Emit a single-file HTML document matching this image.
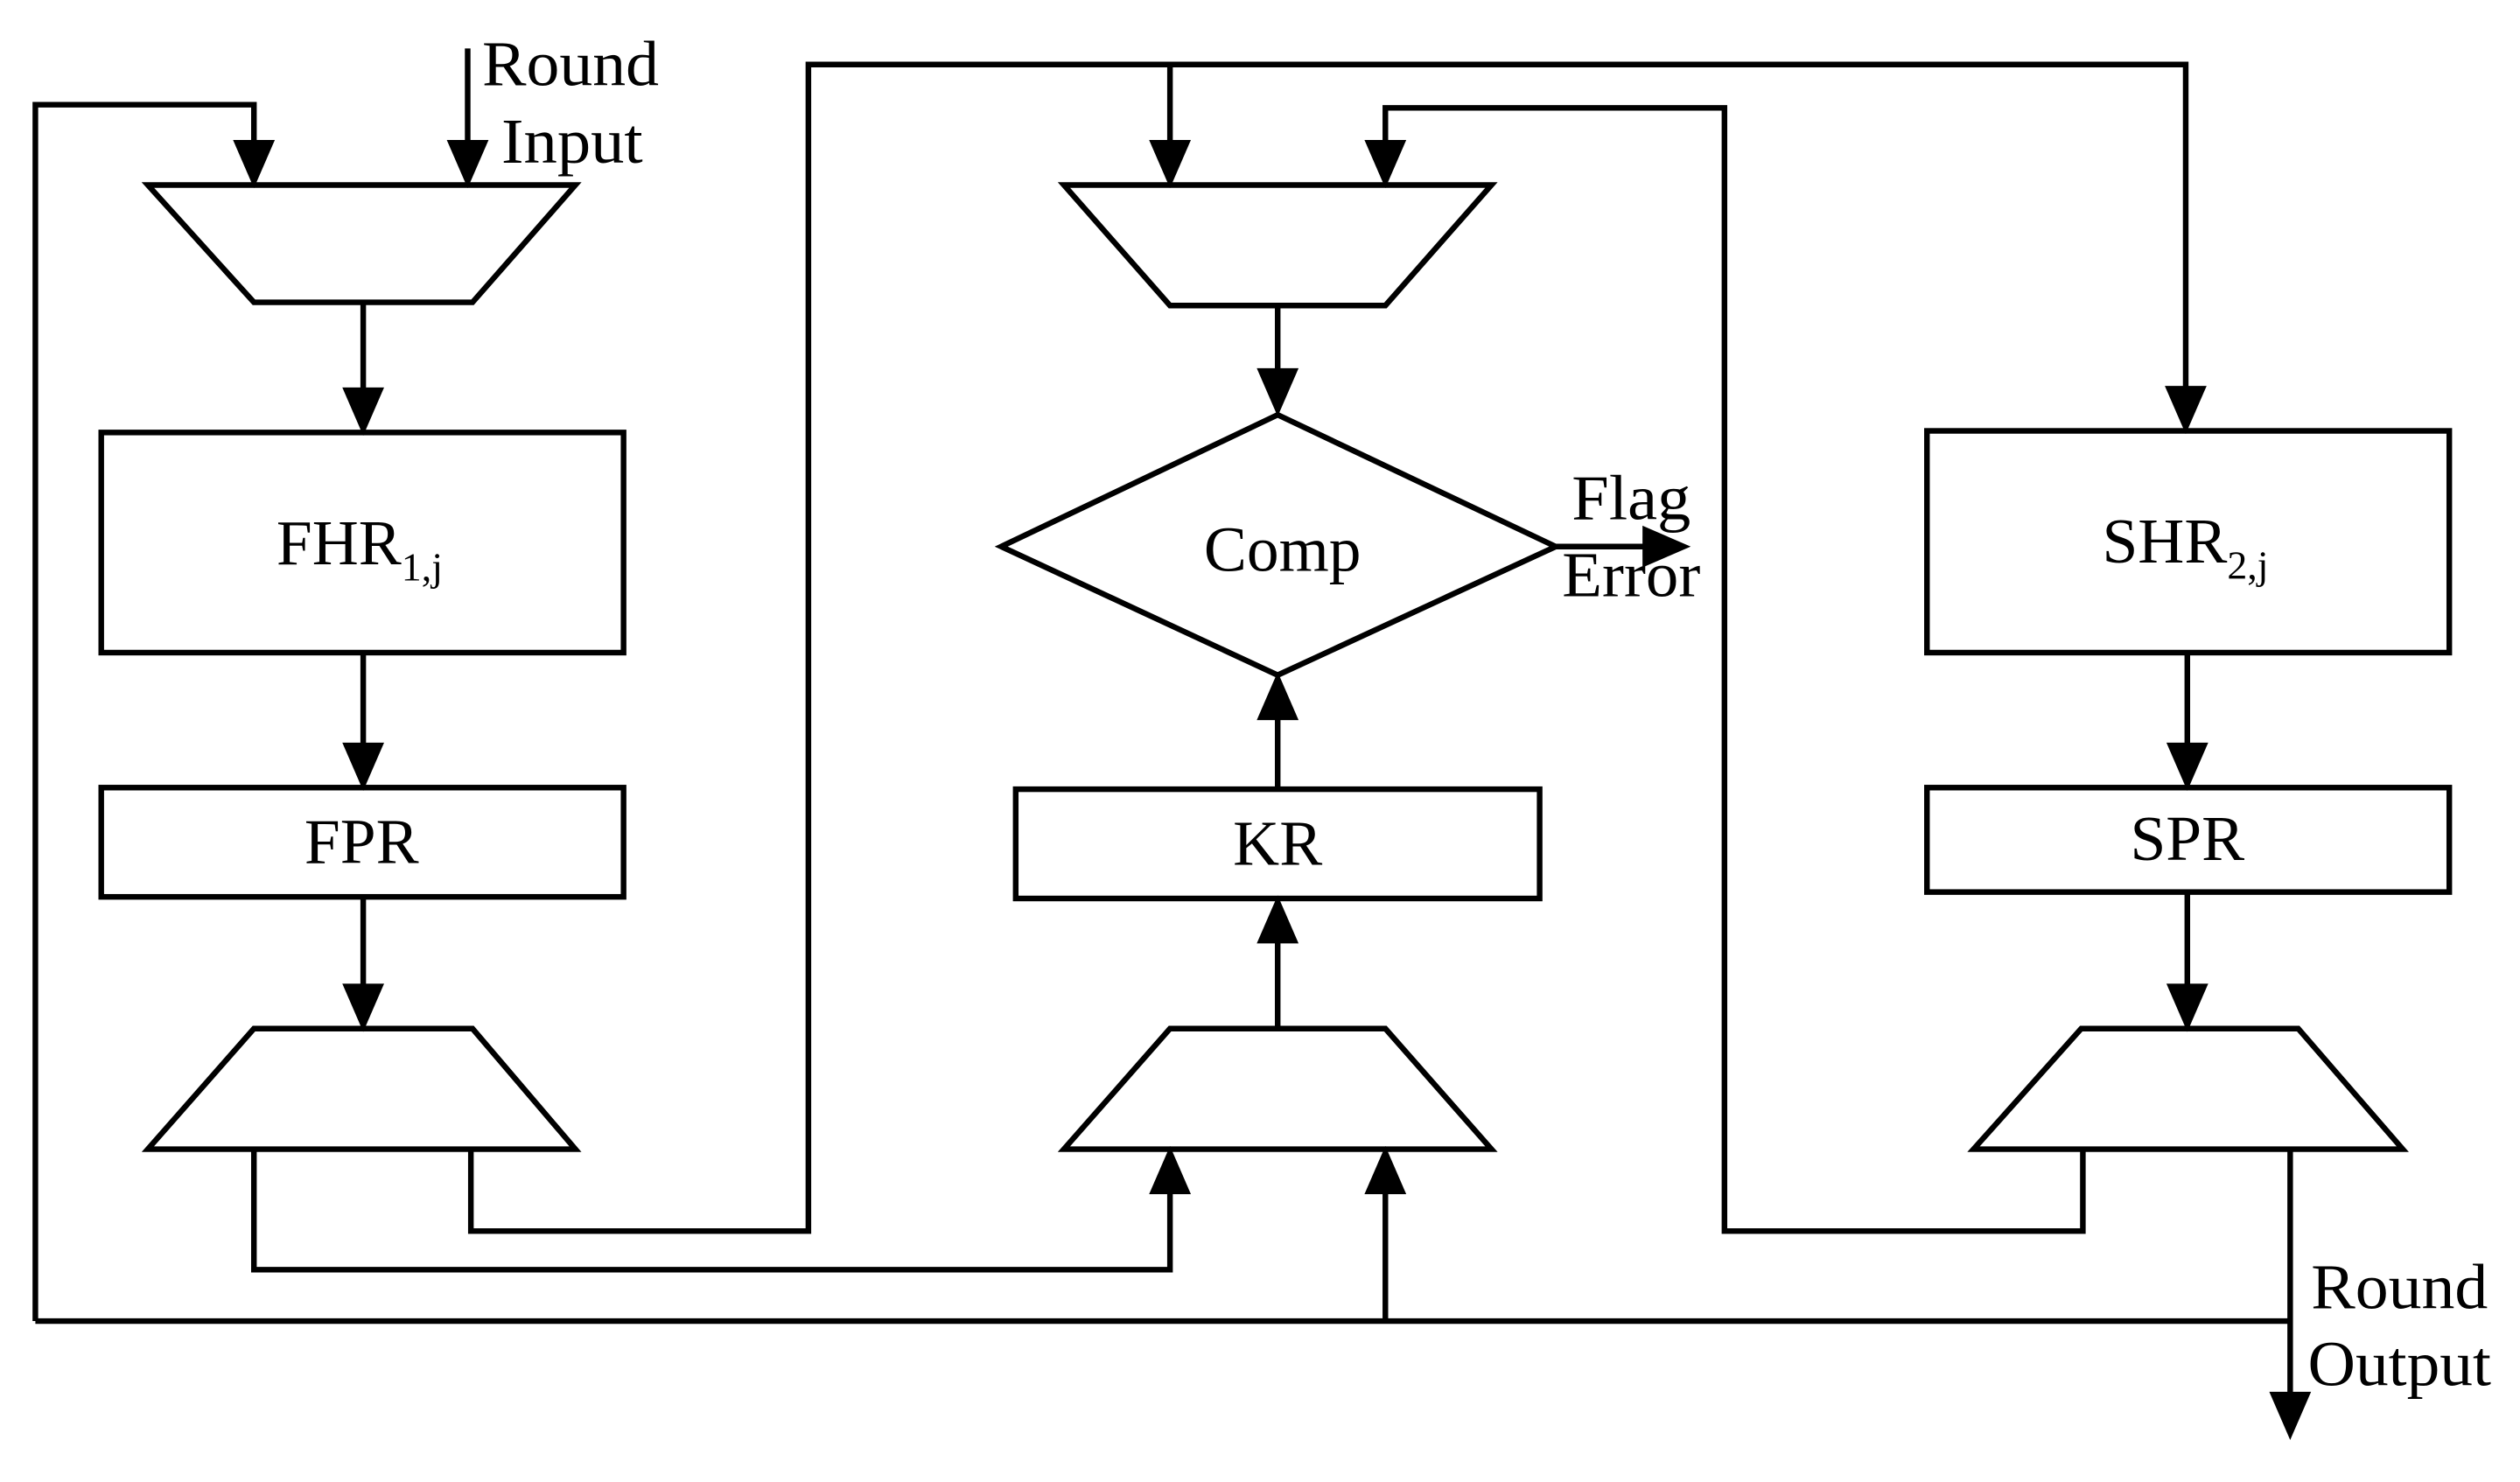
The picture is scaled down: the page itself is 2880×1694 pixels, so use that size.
<!DOCTYPE html>
<html><head><meta charset="utf-8"><style>
html,body{margin:0;padding:0;background:#fff;}
svg{display:block;}
text{font-family:"Liberation Serif",serif;fill:#000;}
</style></head><body>
<svg width="2880" height="1694" viewBox="0 0 1568 922" xmlns="http://www.w3.org/2000/svg">
<g fill="none" stroke="#000" stroke-width="3.5" stroke-linejoin="miter">
<polygon points="92,115 358,115 294,188 158,188"/>
<rect x="63" y="269" width="325" height="137"/>
<rect x="63" y="490" width="325" height="68"/>
<polygon points="158,640 294,640 358,715 92,715"/>
<polygon points="662,115 928,115 862,190 728,190"/>
<polygon points="795,258 968,340 795,420 623,340"/>
<rect x="632" y="491" width="326" height="68"/>
<polygon points="728,640 862,640 928,715 662,715"/>
<rect x="1199" y="268" width="325" height="138"/>
<rect x="1199" y="490" width="325" height="65"/>
<polygon points="1295,640 1430,640 1495,715 1228,715"/>
<polyline points="22,822 22,65 158,65 158,100"/>
<line x1="291" y1="30" x2="291" y2="100"/>
<line x1="226" y1="188" x2="226" y2="255"/>
<line x1="226" y1="406" x2="226" y2="475"/>
<line x1="226" y1="558" x2="226" y2="625"/>
<polyline points="158,715 158,790 728,790 728,730"/>
<polyline points="293,715 293,766 503,766 503,40 1360,40 1360,253"/>
<line x1="728" y1="40" x2="728" y2="100"/>
<polyline points="862,100 862,67 1073,67 1073,766 1296,766 1296,715"/>
<line x1="795" y1="190" x2="795" y2="243"/>
<line x1="968" y1="340" x2="1035" y2="340"/>
<line x1="795" y1="491" x2="795" y2="435"/>
<line x1="795" y1="640" x2="795" y2="574"/>
<line x1="862" y1="822" x2="862" y2="730"/>
<line x1="22" y1="822" x2="1425" y2="822"/>
<line x1="1361" y1="406" x2="1361" y2="475"/>
<line x1="1361" y1="555" x2="1361" y2="625"/>
<line x1="1425" y1="715" x2="1425" y2="880"/>
</g>
<g fill="#000">
<polygon points="158,117 145,87 171,87"/>
<polygon points="291,117 278,87 304,87"/>
<polygon points="226,271 213,241 239,241"/>
<polygon points="226,492 213,462 239,462"/>
<polygon points="226,642 213,612 239,612"/>
<polygon points="728,117 715,87 741,87"/>
<polygon points="862,117 849,87 875,87"/>
<polygon points="795,259 782,229 808,229"/>
<polygon points="1360,270 1347,240 1373,240"/>
<polygon points="1361,492 1348,462 1374,462"/>
<polygon points="1361,642 1348,612 1374,612"/>
<polygon points="1425,896 1412,866 1438,866"/>
<polygon points="728,713 715,743 741,743"/>
<polygon points="862,713 849,743 875,743"/>
<polygon points="795,418 782,448 808,448"/>
<polygon points="795,557 782,587 808,587"/>
<polygon points="1052,340 1022,327 1022,353"/>
</g>
<g font-size="40">
<text x="300" y="53" textLength="110" lengthAdjust="spacingAndGlyphs">Round</text>
<text x="312" y="101" textLength="88" lengthAdjust="spacingAndGlyphs">Input</text>
<text x="172" y="351">FHR<tspan font-size="25" dy="10">1,j</tspan></text>
<text x="225" y="537" text-anchor="middle">FPR</text>
<text x="798" y="355" text-anchor="middle">Comp</text>
<text x="978" y="323" textLength="74" lengthAdjust="spacingAndGlyphs">Flag</text>
<text x="972" y="371" textLength="86" lengthAdjust="spacingAndGlyphs">Error</text>
<text x="795" y="538" text-anchor="middle">KR</text>
<text x="1308" y="350">SHR<tspan font-size="25" dy="10">2,j</tspan></text>
<text x="1361" y="535" text-anchor="middle">SPR</text>
<text x="1438" y="814" textLength="110" lengthAdjust="spacingAndGlyphs">Round</text>
<text x="1436" y="862" textLength="114" lengthAdjust="spacingAndGlyphs">Output</text>
</g>
</svg>
</body></html>
